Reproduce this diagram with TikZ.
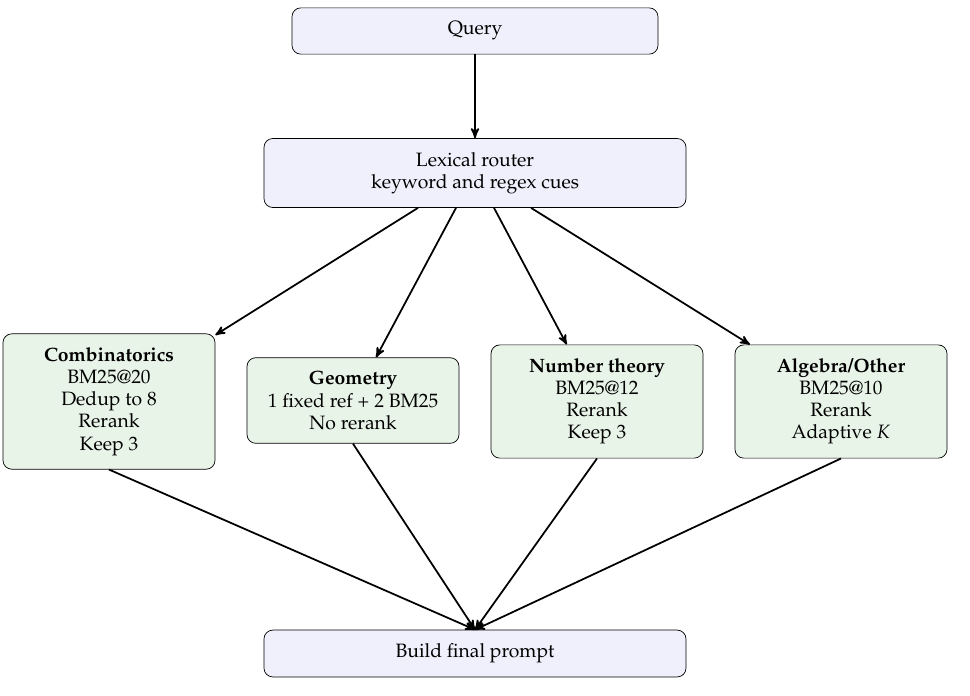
\documentclass[tikz,border=0pt]{standalone}
\usepackage[T1]{fontenc}
\usepackage{mathpazo}
\usepackage{tikz}
\usetikzlibrary{arrows}
\definecolor{routerfill}{RGB}{240,240,252}
\definecolor{stagefill}{RGB}{233,244,233}

\begin{document}
\begin{tikzpicture}[>=stealth', line width=1pt, font=\fontsize{11}{12.6}\selectfont]
\tikzstyle{blk}=[draw, thin, rounded corners=5pt, align=center, inner sep=7.8pt]
\tikzstyle{stage}=[blk, fill=stagefill, minimum width=4.24cm]
\useasboundingbox (0,0) rectangle (19.4,-13.9);
\node[blk, fill=routerfill, minimum width=7.32cm] (query) at (9.5,-0.62) {Query};
\node[blk, fill=routerfill, minimum width=8.44cm] (router) at (9.5,-3.46) {Lexical router\\keyword and regex cues};
\node[stage] (comb) at (2.18,-8.03) {\textbf{Combinatorics}\\BM25@20\\Dedup to 8\\Rerank\\Keep 3};
\node[stage] (geom) at (7.06,-8.01) {\textbf{Geometry}\\1 fixed ref + 2 BM25\\No rerank};
\node[stage] (numth) at (11.94,-8.03) {\textbf{Number theory}\\BM25@12\\Rerank\\Keep 3};
\node[stage] (alg) at (16.82,-8.03) {\textbf{Algebra/Other}\\BM25@10\\Rerank\\Adaptive $K$};
\node[blk, fill=routerfill, minimum width=8.44cm] (build) at (9.5,-13.07) {Build final prompt};
\draw[->] (query) -- (router);
\foreach \s/\b in {-1.14/comb, -0.38/geom, 0.38/numth, 1.12/alg}{
\draw[->] ([xshift=\s cm]router.south) -- (\b);
}
\foreach \b in {comb, geom, numth, alg}{
\draw[->] (\b.south) -- (build.north);
}
\end{tikzpicture}
\end{document}
